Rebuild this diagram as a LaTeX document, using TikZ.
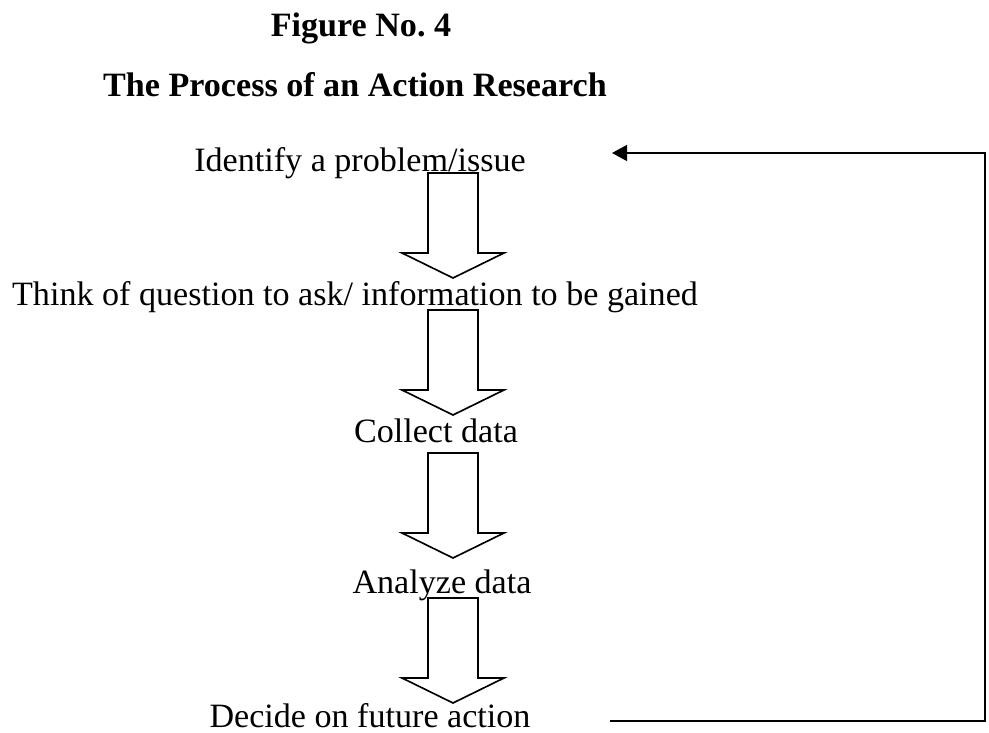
\documentclass[tikz,border=0pt]{standalone}
\usepackage{fontspec}
\setmainfont{Liberation Serif}
\usetikzlibrary{arrows.meta}
\usetikzlibrary{math}
\tikzstyle{stagetext} = [anchor=base, inner sep=0pt, font=\fontsize{12.4}{14}\selectfont]
\tikzstyle{headtext} = [stagetext, font=\fontsize{12.4}{14}\selectfont\bfseries]
\tikzstyle{blockarrow} = [line width=0.6pt, line join=miter]
\tikzstyle{feedback} = [line width=0.7pt, -{Triangle[length=5.5pt,width=5.8pt]}]

\begin{document}
\frenchspacing
\begin{tikzpicture}[x=0.3636pt, y=-0.3636pt]

  \useasboundingbox (0,0) rectangle (989,733);
  \tikzmath{\ac = 453; \aw = 25; \hwd = 51; \alen = 80; \hlen = 25;}

  \node[headtext] (fig) at (361,37) {Figure No. 4};
  \node[headtext] (title) at (355,97) {The Process of an Action Research};

  \node[stagetext] (identify) at (360,172) {Identify a problem/issue};
  \node[stagetext] (think) at (355,306) {Think of question to ask/ information to be gained};
  \node[stagetext] (collect) at (436,443) {Collect data};
  \node[stagetext] (analyze) at (442,594) {Analyze data};
  \node[stagetext] (decide) at (370,728) {Decide on future action};

  \foreach \t in {173, 310, 453, 598} {
    \draw[blockarrow] (\ac-\aw,\t) -- (\ac+\aw,\t) -- (\ac+\aw,\t+\alen) -- (\ac+\hwd,\t+\alen)
      -- (\ac,\t+\alen+\hlen) -- (\ac-\hwd,\t+\alen) -- (\ac-\aw,\t+\alen) -- cycle;
  }

  \coordinate (fbout) at (610,721);
  \coordinate (fbcorner) at (985,721);
  \coordinate (fbin) at (612,153);
  \draw[feedback] (fbout) -- (fbcorner) |- (fbin);

\end{tikzpicture}
\end{document}
